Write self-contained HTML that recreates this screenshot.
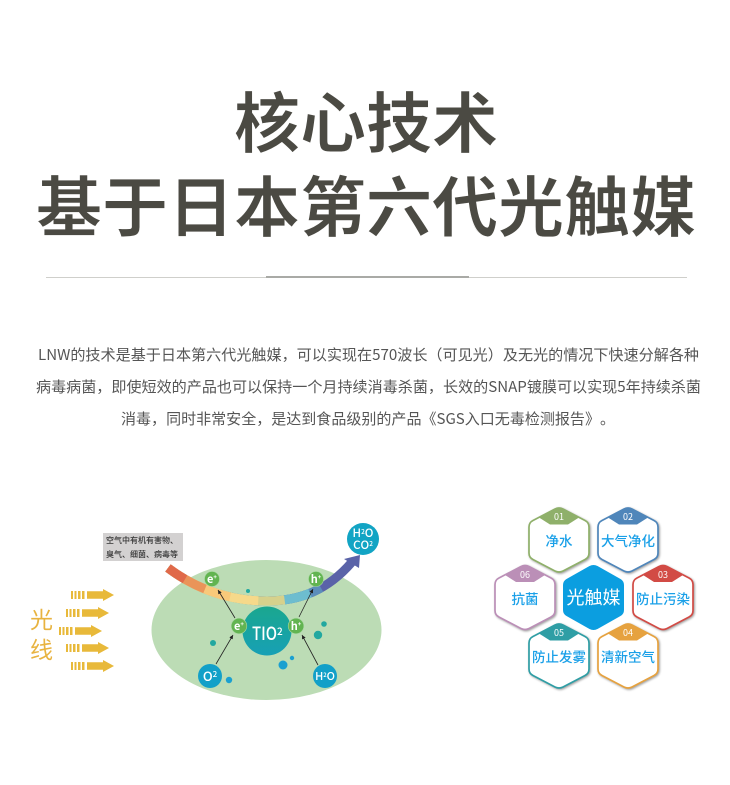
<!DOCTYPE html>
<html lang="zh"><head><meta charset="utf-8"><title>核心技术</title>
<style>
html,body{margin:0;padding:0;background:#fff}
svg{display:block}
text{font-family:"Noto Sans CJK SC","Liberation Sans",sans-serif;font-kerning:none;text-spacing-trim:space-all}
.h{filter:drop-shadow(1.2px 1.6px 1px rgba(0,0,0,.38))}
</style></head><body>
<svg width="730" height="785" viewBox="0 0 730 785" xmlns="http://www.w3.org/2000/svg">
<defs>
<linearGradient id="t" x1="0" y1="0" x2="0" y2="1"><stop offset="0" stop-color="#1aa78f"/><stop offset="1" stop-color="#17a0b5"/></linearGradient>
<g id="la" fill="#e8b93a">
<rect x="0" y="-4" width="2" height="8"/><rect x="3.500" y="-4" width="2" height="8"/><rect x="7" y="-4" width="2.500" height="8"/><rect x="11" y="-4" width="2.500" height="8"/>
<polygon points="16,-3.700 32,-3.700 32,-6 43,0 32,6 32,3.700 16,3.700"/>
</g>
<path id="hex" d="M-4 -31Q0 -33 4 -31L26 -19.500Q30 -17.500 30 -13L30 13Q30 17.500 26 19.500L4 31Q0 33 -4 31L-26 19.500Q-30 17.500 -30 13L-30 -13Q-30 -17.500 -26 -19.500Z" stroke-width="1.700" fill="#fff"/>
<path id="cap" d="M-4 -31Q0 -33 4 -31L20 -22.500L9 -15.500L-9 -15.500L-20 -22.500Z"/>
<marker id="ar" markerWidth="6" markerHeight="6" refX="5" refY="2.500" orient="auto"><path d="M0 0L5 2.500L0 5z" fill="#222"/></marker>
</defs>

<g font-size="66" font-weight="700" fill="#4b4a43" text-anchor="middle" stroke="#fff" stroke-width=".7" paint-order="fill">
<text x="366" y="147">核心技术</text>
<text x="366" y="231">基于日本第六代光触媒</text>
</g>

<rect x="46" y="277" width="641" height="1" fill="#cfcfcb"/>
<rect x="266" y="276" width="203" height="2" fill="#a9aaa6"/>

<g font-size="15" fill="#555">
<text x="38" y="360" textLength="661" lengthAdjust="spacingAndGlyphs">LNW的技术是基于日本第六代光触媒，可以实现在570波长（可见光）及无光的情况下快速分解各种</text>
<text x="36" y="392" textLength="665" lengthAdjust="spacingAndGlyphs">病毒病菌，即使短效的产品也可以保持一个月持续消毒杀菌，长效的SNAP镀膜可以实现5年持续杀菌</text>
<text x="121" y="424" textLength="494" lengthAdjust="spacingAndGlyphs">消毒，同时非常安全，是达到食品级别的产品《SGS入口无毒检测报告》。</text>
</g>

<!-- left diagram -->
<ellipse cx="266.500" cy="630" rx="115" ry="70" fill="#bcdcb5"/>
<rect x="103" y="533" width="80" height="28" fill="#d3d1d1"/>
<g font-size="8" fill="#333" font-weight="500">
<text x="106" y="543">空气中有机有害物、</text>
<text x="106" y="557">臭气、细菌、病毒等</text>
</g>

<g fill="none" stroke-width="9">
<path d="M168 568C200 592 235 601 267 601C300 601 328 590 352 562" stroke="#5a63a8"/>
<path d="M168 568C200 592 235 601 267 601C300 601 328 590 352 562" pathLength="100" stroke="#5b8dbb" stroke-dasharray="80 100"/>
<path d="M168 568C200 592 235 601 267 601C300 601 328 590 352 562" pathLength="100" stroke="#6dbdcf" stroke-dasharray="74 100"/>
<path d="M168 568C200 592 235 601 267 601C300 601 328 590 352 562" pathLength="100" stroke="#d6d18c" stroke-dasharray="61 100"/>
<path d="M168 568C200 592 235 601 267 601C300 601 328 590 352 562" pathLength="100" stroke="#f6d98a" stroke-dasharray="48 100"/>
<path d="M168 568C200 592 235 601 267 601C300 601 328 590 352 562" pathLength="100" stroke="#f8c97a" stroke-dasharray="34 100"/>
<path d="M168 568C200 592 235 601 267 601C300 601 328 590 352 562" pathLength="100" stroke="#ea9459" stroke-dasharray="21 100"/>
<path d="M168 568C200 592 235 601 267 601C300 601 328 590 352 562" pathLength="100" stroke="#e0694a" stroke-dasharray="10 100"/>
</g>
<polygon points="360,555 359,568 344,559" fill="#5a63a8"/>

<use href="#la" x="71" y="595"/><use href="#la" x="66" y="613"/><use href="#la" x="59" y="631"/><use href="#la" x="66" y="648"/><use href="#la" x="71" y="666"/>
<text x="30" y="628" font-size="23" fill="#e8b340">光</text>
<text x="30" y="658" font-size="23" fill="#e8b340">线</text>

<g fill="#22a8a0">
<circle cx="248" cy="591" r="2"/><circle cx="213" cy="643" r="3"/><circle cx="324" cy="624" r="2.800"/><circle cx="318" cy="635" r="4.200"/>
</g>
<g fill="#1ba0d0">
<circle cx="229" cy="680" r="3.200"/><circle cx="292" cy="658" r="2.200"/><circle cx="283" cy="665" r="4.500"/>
</g>

<g stroke="#222" stroke-width=".8" fill="none">
<path d="M216 664L233 635" marker-end="url(#ar)"/>
<path d="M318 665L302 635" marker-end="url(#ar)"/>
<path d="M235 618L218 590" marker-end="url(#ar)"/>
<path d="M299 617L313 589" marker-end="url(#ar)"/>
</g>

<circle cx="267" cy="631" r="24.500" fill="url(#t)"/>
<text x="252" y="640" font-size="18" font-weight="500" fill="#fff" textLength="25" lengthAdjust="spacingAndGlyphs">TIO</text>
<text x="277" y="635" font-size="10" font-weight="500" fill="#fff">2</text>

<g fill="#62b451" stroke="#a8d8a0" stroke-width=".6">
<circle cx="212" cy="579" r="7.500"/><circle cx="316" cy="579" r="7.500"/><circle cx="239" cy="626" r="7.800"/><circle cx="296" cy="626" r="7.800"/>
</g>
<g fill="#fff" font-size="11" font-weight="700" text-anchor="middle">
<text x="212" y="583">e<tspan font-size="6" dy="-4">+</tspan></text>
<text x="316" y="583">h<tspan font-size="6" dy="-4">+</tspan></text>
<text x="239" y="630">e<tspan font-size="6" dy="-4">+</tspan></text>
<text x="296" y="630">h<tspan font-size="6" dy="-4">+</tspan></text>
</g>

<circle cx="210" cy="676" r="12" fill="#12a0c8"/>
<circle cx="325" cy="676" r="12" fill="#12a0c8"/>
<circle cx="363" cy="539" r="16" fill="#12a4c4"/>
<g fill="#fff" text-anchor="middle" font-weight="500">
<text x="210" y="681" font-size="13">O<tspan font-size="8" dy="-4">2</tspan></text>
<text x="325" y="680" font-size="11">H<tspan font-size="6" dy="-3">2</tspan><tspan dy="3">O</tspan></text>
<text x="363" y="537" font-size="11.500">H<tspan font-size="6.500" dy="-3">2</tspan><tspan dy="3">O</tspan></text>
<text x="363" y="549" font-size="11.500">CO<tspan font-size="6.500" dy="-3">2</tspan></text>
</g>

<!-- hexagons -->
<g class="h" transform="translate(559 540)" stroke="#8fb06a" fill="#8fb06a"><use href="#hex"/><use href="#cap" stroke="none"/></g>
<g class="h" transform="translate(628 540)" stroke="#4f86ba" fill="#4f86ba"><use href="#hex"/><use href="#cap" stroke="none"/></g>
<g class="h" transform="translate(525 597.500)" stroke="#bb8fb7" fill="#bb8fb7"><use href="#hex"/><use href="#cap" stroke="none"/></g>
<g class="h" transform="translate(663 597.500)" stroke="#d24b45" fill="#d24b45"><use href="#hex"/><use href="#cap" stroke="none"/></g>
<g class="h" transform="translate(559 656)" stroke="#2f9ea5" fill="#2f9ea5"><use href="#hex"/><use href="#cap" stroke="none"/></g>
<g class="h" transform="translate(628 656)" stroke="#e6a23f" fill="#e6a23f"><use href="#hex"/><use href="#cap" stroke="none"/></g>
<path d="M589.500 566Q593.500 564 597.500 566L620.500 579Q624 581 624 585L624 610Q624 614 620.500 616L597.500 629Q593.500 631 589.500 629L566.500 616Q563 614 563 610L563 585Q563 581 566.500 579Z" fill="#0b9ee0"/>
<g fill="#fff" font-size="9" text-anchor="middle">
<text x="559" y="520">01</text><text x="628" y="520">02</text><text x="525" y="578">06</text><text x="663" y="578">03</text><text x="559" y="636">05</text><text x="628" y="636">04</text>
</g>
<text x="593.500" y="604" font-size="18" fill="#fff" text-anchor="middle">光触媒</text>
<g fill="#1aa0e8" font-size="13.500" font-weight="500" text-anchor="middle">
<text x="559" y="546">净水</text>
<text x="628" y="546">大气净化</text>
<text x="525" y="604">抗菌</text>
<text x="663" y="604">防止污染</text>
<text x="559" y="662">防止发雾</text>
<text x="628" y="662">清新空气</text>
</g>
</svg>
</body></html>
